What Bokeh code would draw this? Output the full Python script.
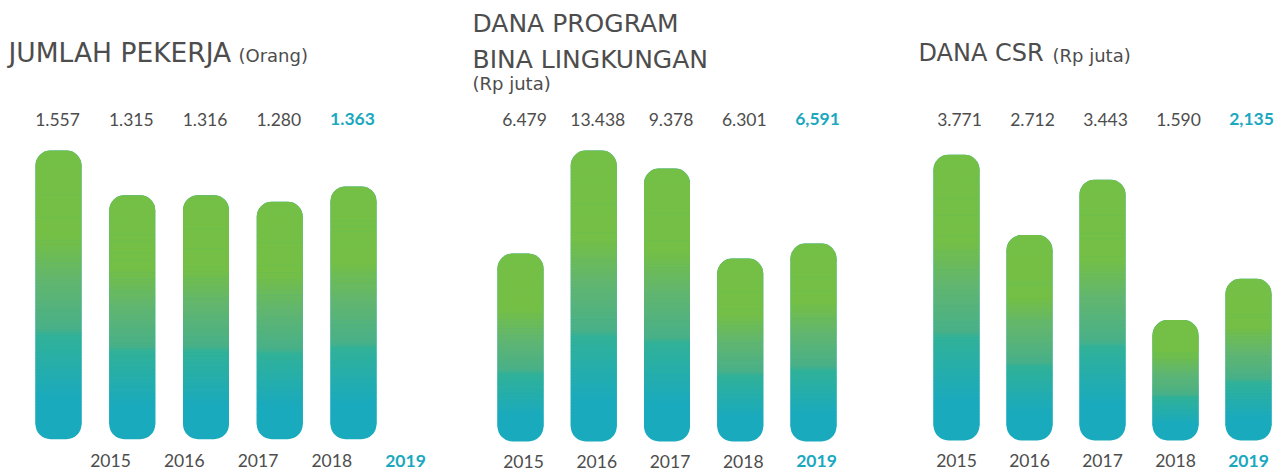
from bokeh.plotting import figure
from bokeh.layouts import row
from bokeh.models import Range1d
from bokeh.core.properties import value
from bokeh.embed import file_html
from bokeh.resources import INLINE

# ---------------- data ----------------
years = ["2015", "2016", "2017", "2018", "2019"]

pekerja = [1557, 1315, 1316, 1280, 1363]
pekerja_labels = ["1.557", "1.315", "1.316", "1.280", "1.363"]

program = [6479, 13438, 9378, 6301, 6591]
program_labels = ["6.479", "13.438", "9.378", "6.301", "6,591"]
# the picture does not draw these bars to scale: lengths as drawn (px)
program_bar_len = [188, 291, 273, 183, 198]

csr = [3771, 2712, 3443, 1590, 2135]
csr_labels = ["3.771", "2.712", "3.443", "1.590", "2,135"]

# ---------------- style ----------------
GREEN = (116, 191, 69)
TEAL = (26, 170, 189)
TEXT = "#4d4d4d"
HILITE = "#1aa8bf"
NUM_FONT = value("Lato")
TITLE_FONT = value("DejaVu Sans")
RADIUS_PX = 15
BAR_PX = 46
FIG_H = 474
STOPS = [(0.0, GREEN), (0.30, GREEN), (0.45, (98, 182, 110)), (0.62, (72, 176, 136)),
         (0.64, (48, 177, 152)), (0.86, TEAL), (1.0, TEAL)]


def grad(t):
    for (t0, c0), (t1, c1) in zip(STOPS[:-1], STOPS[1:]):
        if t <= t1:
            f = 0 if t1 == t0 else (t - t0) / (t1 - t0)
            f = min(max(f, 0), 1)
            c = [round(a + (b - a) * f) for a, b in zip(c0, c1)]
            return "#%02x%02x%02x" % tuple(c)
    return "#%02x%02x%02x" % TEAL


def make_panel(left, width, x0, pitch, yb, scale):
    X = lambda sx: (sx - x0) / pitch
    Y = lambda sy: (yb - sy) / scale
    p = figure(width=width, height=FIG_H,
               x_range=Range1d(X(left), X(left + width)),
               y_range=Range1d(Y(FIG_H), Y(0)),
               output_backend="svg", toolbar_location=None,
               x_axis_location=None, y_axis_location=None,
               min_border=0, outline_line_color=None,
               background_fill_color="white", border_fill_color="white")
    p.grid.visible = False
    return p, X, Y


def draw_bars(p, heights, pitch, scale, n=90):
    xs = list(range(len(heights)))
    w = BAR_PX / pitch
    r = RADIUS_PX / scale
    ov = 0.6 / scale
    p.vbar(x=xs, top=heights, bottom=0, width=w, fill_color="#%02x%02x%02x" % TEAL,
           line_color=None, border_radius=RADIUS_PX)
    p.vbar(x=xs, top=heights, bottom=[h - 2 * r for h in heights], width=w,
           fill_color="#%02x%02x%02x" % GREEN, line_color=None, border_radius=RADIUS_PX)
    L, R, T, B, C = [], [], [], [], []
    for x, h in zip(xs, heights):
        hi, lo = h - r, r
        for k in range(n):
            a = hi - (hi - lo) * k / n
            b = hi - (hi - lo) * (k + 1) / n
            L.append(x - w / 2); R.append(x + w / 2)
            T.append(a); B.append(b - ov)
            C.append(grad((h - (a + b) / 2) / h))
    p.quad(left=L, right=R, top=T, bottom=B, fill_color=C, line_color=None)


def number_labels(p, Y, xs, base_px, labels, dx=0, size=17.5):
    y = Y(base_px - 0.36 * size)
    fs = "%gpx" % size
    p.text(x=xs[:-1], y=[y] * (len(xs) - 1), text=labels[:-1], text_font=NUM_FONT,
           text_font_size=fs, text_color=TEXT, text_align="center",
           text_baseline="alphabetic", x_offset=dx)
    p.text(x=xs[-1:], y=[y], text=labels[-1:], text_font=NUM_FONT,
           text_font_size=fs, text_font_style="bold", text_color=HILITE,
           text_align="center", text_baseline="alphabetic", x_offset=dx)


def title_text(p, X, Y, left_px, base_px, txt, size):
    p.text(x=[X(left_px)], y=[Y(base_px - 0.36 * size)], text=[txt], text_font=TITLE_FONT,
           text_font_size="%gpx" % size, text_color=TEXT, text_align="left",
           text_baseline="alphabetic")


idx = list(range(len(years)))

# ---------- panel 1: JUMLAH PEKERJA ----------
s1 = 288.7 / max(pekerja)
p1, X1, Y1 = make_panel(0, 470, 58, 73.75, 438.7, s1)
draw_bars(p1, pekerja, 73.75, s1)
number_labels(p1, Y1, idx, 125, pekerja_labels, dx=-1)
number_labels(p1, Y1, [i + 52 / 73.75 for i in idx], 466.7, years)
title_text(p1, X1, Y1, 8, 61.7, "JUMLAH PEKERJA", 26.5)
title_text(p1, X1, Y1, 238, 61.7, "(Orang)", 18)

# ---------- panel 2: DANA PROGRAM BINA LINGKUNGAN ----------
s2 = 1.0
p2, X2, Y2 = make_panel(470, 436, 520, 73.25, 441, s2)
draw_bars(p2, program_bar_len, 73.25, s2)
number_labels(p2, Y2, idx, 125, program_labels, dx=4)
number_labels(p2, Y2, idx, 467.2, years, dx=3)
title_text(p2, X2, Y2, 472, 31.7, "DANA PROGRAM", 25)
title_text(p2, X2, Y2, 472, 68.3, "BINA LINGKUNGAN", 25)
title_text(p2, X2, Y2, 472, 89, "(Rp juta)", 18)

# ---------- panel 3: DANA CSR ----------
s3 = 285.7 / max(csr)
p3, X3, Y3 = make_panel(906, 380, 956, 73, 440, s3)
draw_bars(p3, csr, 73, s3)
number_labels(p3, Y3, idx, 125, csr_labels, dx=3)
number_labels(p3, Y3, idx, 466.7, years, dx=0)
title_text(p3, X3, Y3, 918, 61, "DANA CSR", 24)
title_text(p3, X3, Y3, 1052, 61, "(Rp juta)", 18)

layout = row(p1, p2, p3, spacing=0)
open("out.html", "w").write(file_html(layout, INLINE))
